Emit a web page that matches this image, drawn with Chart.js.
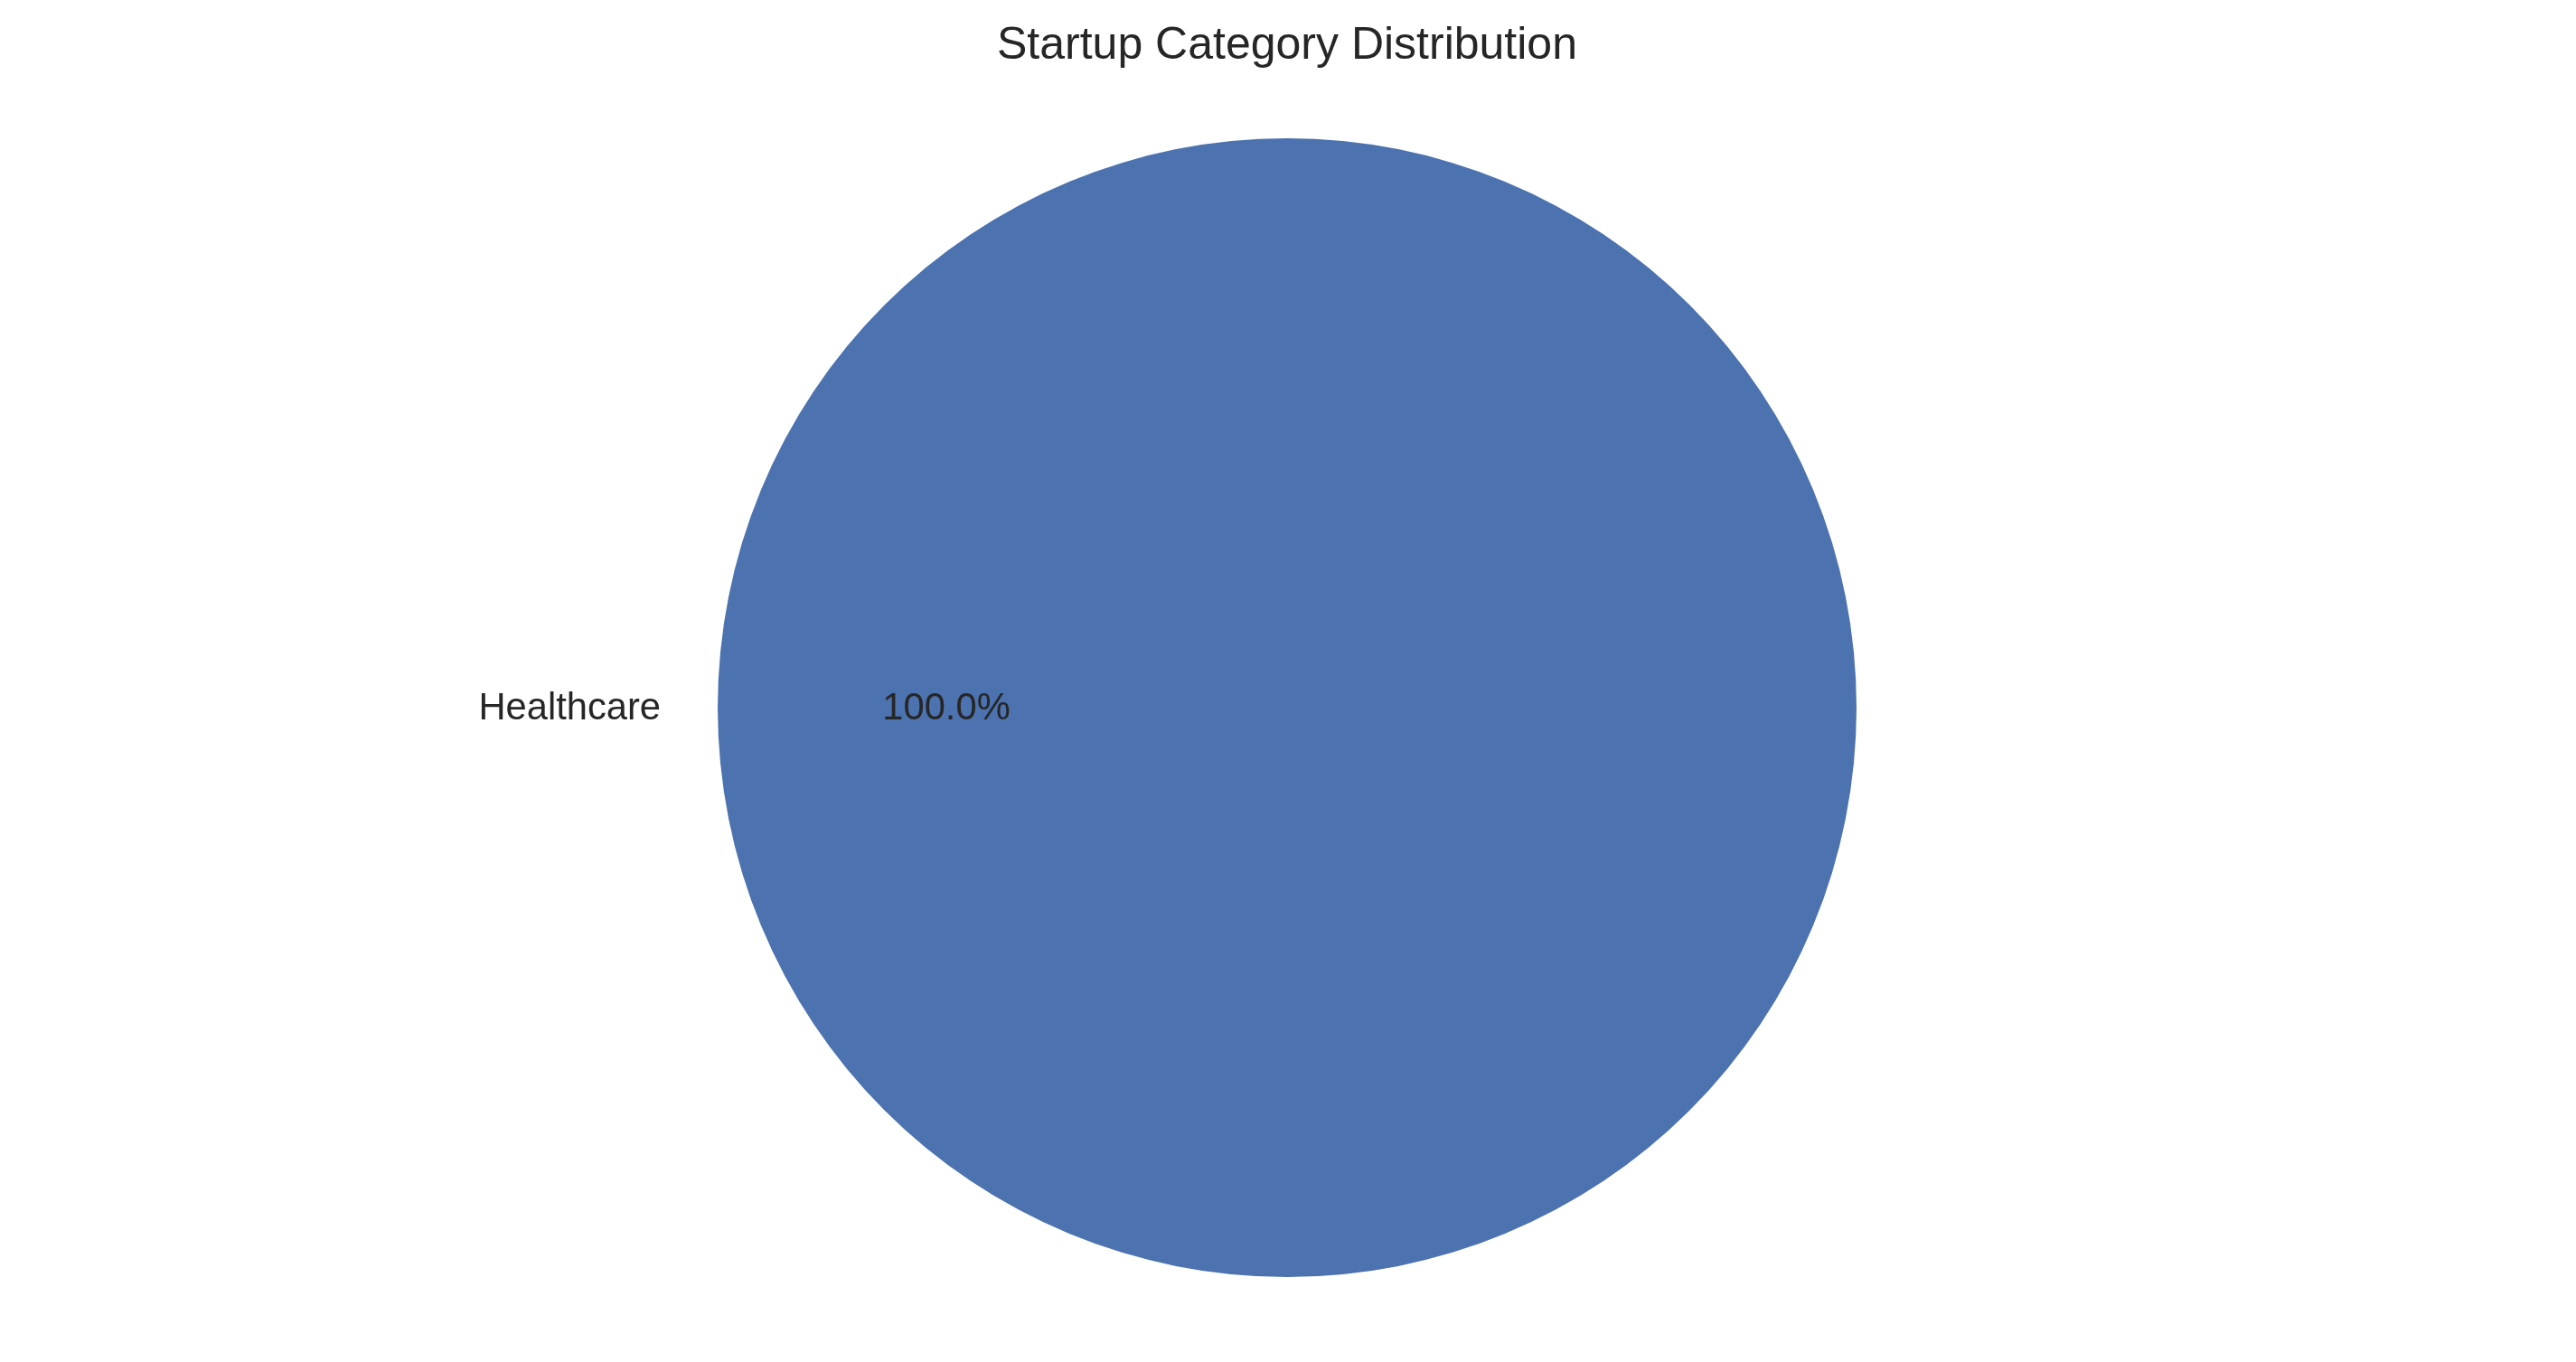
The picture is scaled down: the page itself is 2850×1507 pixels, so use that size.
<!DOCTYPE html>
<html>
<head>
<meta charset="utf-8">
<style>
  html, body { margin: 0; padding: 0; background: #ffffff; }
  #wrap { width: 2850px; height: 1507px; position: relative; }
</style>
<script src="https://cdn.jsdelivr.net/npm/chart.js@4.4.1/dist/chart.umd.min.js"></script>
</head>
<body>
<div id="wrap"><canvas id="c" width="2850" height="1507"></canvas></div>
<script>
const categories = ["Healthcare"];
const counts = [1];
const sliceColors = ["#4C72B0"];
const chartTitle = "Startup Category Distribution";

const FONT = "'Liberation Sans', Arial, sans-serif";
const TEXT = "#262626";

const pieLabels = {
  id: "pieLabels",
  afterDatasetsDraw(chart) {
    const ctx = chart.ctx;
    const meta = chart.getDatasetMeta(0);
    const total = counts.reduce((a, b) => a + b, 0);
    ctx.save();
    ctx.fillStyle = TEXT;
    ctx.font = "41.7px " + FONT;
    ctx.textBaseline = "alphabetic";
    meta.data.forEach((arc, i) => {
      const p = arc.getProps(["x", "y", "outerRadius"], true);
      const frac = counts[i] / total;
      const midDeg = 360 * (counts.slice(0, i).reduce((a, b) => a + b, 0) / total) + 180 * frac;
      const mid = midDeg * Math.PI / 180;
      const cx = p.x, cy = p.y, r = p.outerRadius;
      const lx = cx + 1.1 * r * Math.cos(mid);
      const ly = cy - 1.1 * r * Math.sin(mid);
      ctx.textAlign = Math.cos(mid) < 0 ? "right" : "left";
      ctx.fillText(categories[i], lx, ly + 13);
      const px = cx + 0.6 * r * Math.cos(mid);
      const py = cy - 0.6 * r * Math.sin(mid);
      ctx.textAlign = "center";
      ctx.fillText((frac * 100).toFixed(1) + "%", px + 1, py + 13);
    });
    ctx.restore();
  }
};

new Chart(document.getElementById("c"), {
  type: "pie",
  data: {
    labels: categories,
    datasets: [{
      data: counts,
      backgroundColor: sliceColors,
      borderWidth: 0,
      hoverOffset: 0
    }]
  },
  options: {
    responsive: false,
    animation: false,
    events: [],
    rotation: 0,
    layout: { padding: { left: 794, right: 796, top: 0, bottom: 94 } },
    plugins: {
      legend: { display: false },
      tooltip: { enabled: false },
      title: {
        display: true,
        text: chartTitle,
        color: TEXT,
        font: { family: FONT, size: 50, weight: "normal", lineHeight: 1.2 },
        padding: { top: 21, bottom: 72 }
      }
    }
  },
  plugins: [pieLabels]
});
</script>
</body>
</html>
